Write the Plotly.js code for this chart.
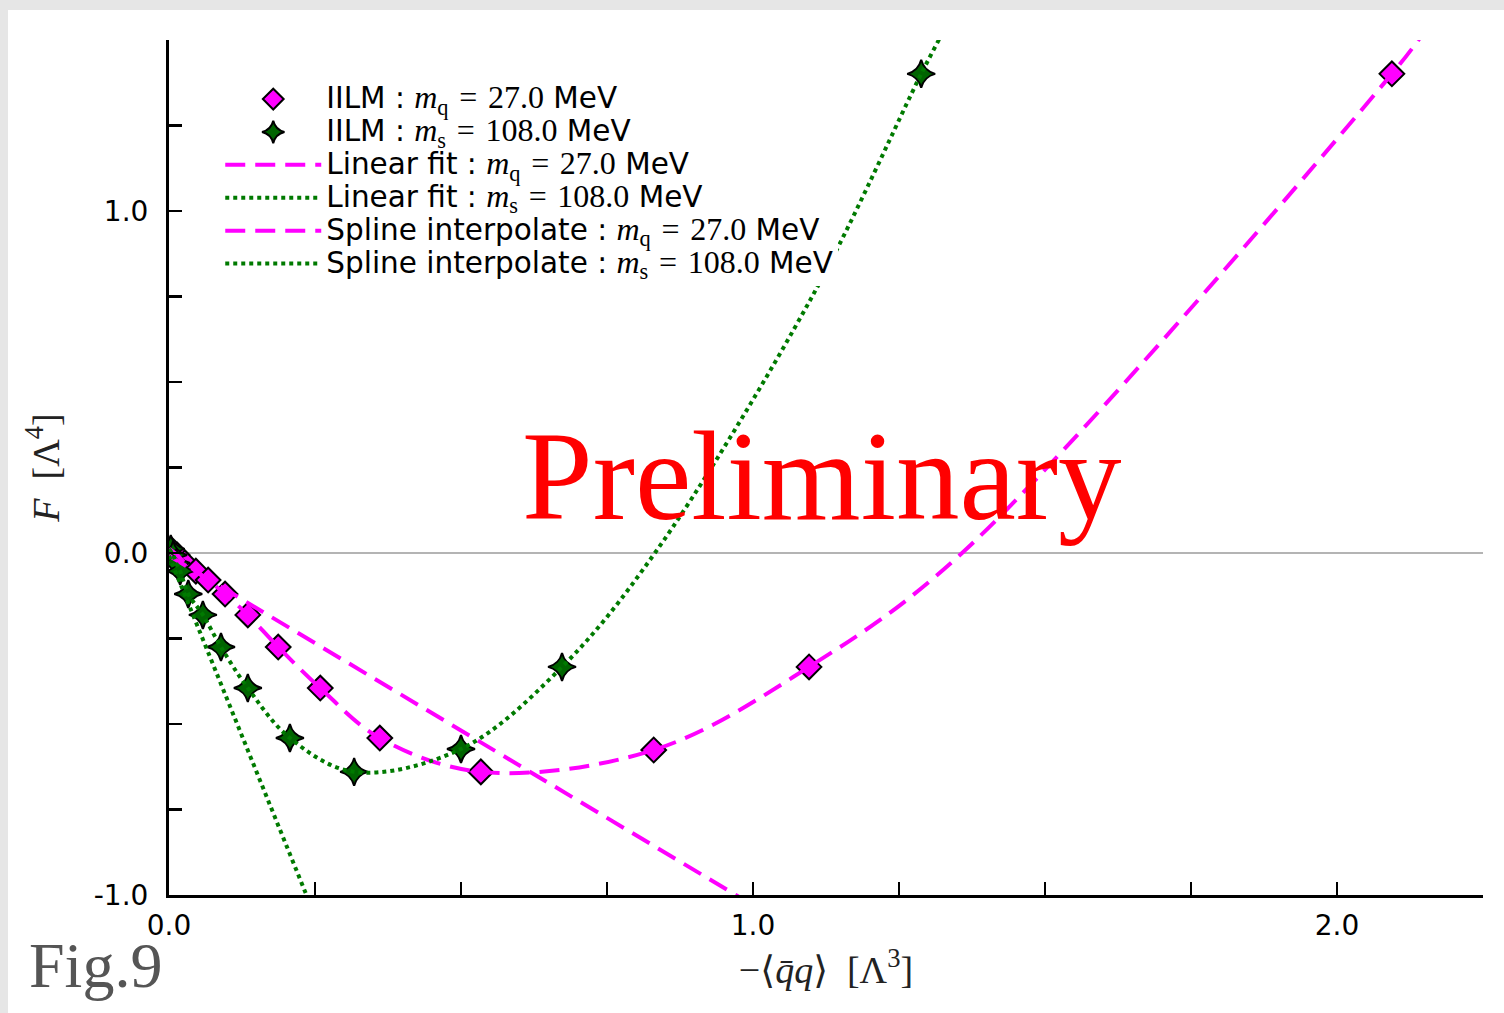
<!DOCTYPE html>
<html>
<head>
<meta charset="utf-8">
<script src="https://cdn.plot.ly/plotly-3.0.1.min.js"></script>
<style>
  html, body { margin: 0; padding: 0; background: #e6e6e6; width: 1504px; height: 1013px; overflow: hidden; }
  #chart { position: absolute; left: 8px; top: 10px; width: 1496px; height: 1003px; background: #ffffff; }
</style>
</head>
<body>
<div id="chart"></div>
<script>
// IILM data, m_q = 27.0 MeV (magenta diamonds)
const iilmQX = [0.003, 0.014, 0.027, 0.046, 0.067, 0.096, 0.135, 0.187, 0.259, 0.361, 0.534, 0.830, 1.096, 2.094];
const iilmQY = [0.012, -0.006, -0.029, -0.053, -0.079, -0.120, -0.181, -0.275, -0.395, -0.541, -0.640, -0.576, -0.333, 1.401];
// IILM data, m_s = 108.0 MeV (green stars)
const iilmSX = [0.003, 0.007, 0.012, 0.019, 0.033, 0.058, 0.089, 0.135, 0.207, 0.317, 0.500, 0.673, 1.288];
const iilmSY = [0.012, -0.006, -0.029, -0.053, -0.120, -0.181, -0.275, -0.395, -0.541, -0.640, -0.573, -0.333, 1.401];
// Linear fits (end points)
const linQX = [0.0, 1.0];
const linQY = [-0.008, -1.030];
const linSX = [0.0, 0.26];
const linSY = [-0.008, -1.104];
// Spline interpolations
const splQX = [0.0, 0.014, 0.027, 0.046, 0.067, 0.096, 0.135, 0.187, 0.259, 0.361, 0.534, 0.830, 1.096, 1.358, 2.094, 2.142];
const splQY = [0.012, -0.006, -0.029, -0.053, -0.079, -0.120, -0.181, -0.275, -0.395, -0.541, -0.640, -0.576, -0.333, 0.0, 1.401, 1.506];
const splSX = [0.0, 0.007, 0.012, 0.019, 0.033, 0.058, 0.089, 0.135, 0.207, 0.317, 0.500, 0.673, 0.832, 1.101, 1.288, 1.320];
const splSY = [0.012, -0.006, -0.029, -0.053, -0.120, -0.181, -0.275, -0.395, -0.541, -0.640, -0.573, -0.333, 0.0, 0.749, 1.401, 1.506];
// Axis ticks (labelled); unlabelled ticks every 0.25
const xTickVals = [0, 1.0, 2.0];
const xTickText = ['0.0', '1.0', '2.0'];
const yTickVals = [-1.0, 0.0, 1.0];
const yTickText = ['-1.0', '0.0', '1.0'];

const MAG = '#ff00ff';
const GRN = '#007a00';
const SERIF = "'Liberation Serif', 'DejaVu Serif', serif";
const m = (sym, val) => "<span style=\"font-family:'Liberation Serif';font-size:32px\"><i>m</i><sub>" + sym + "</sub> \u200a= \u200a" + val + "</span>";
const lab = (pre, sym, val) => '<span style="font-size:29.5px">' + pre + ' : ' + m(sym, val) + ' MeV</span>';

const traces = [
  { x: iilmQX, y: iilmQY, type: 'scatter', mode: 'markers', name: lab('IILM', 'q', '27.0'),
    marker: { symbol: 'diamond', size: 19, color: MAG, line: { color: '#000', width: 2 } } },
  { x: iilmSX, y: iilmSY, type: 'scatter', mode: 'markers', name: lab('IILM', 's', '108.0'),
    marker: { symbol: 'star-diamond', size: 20, color: '#006400', line: { color: '#000', width: 2 } } },
  { x: linQX, y: linQY, type: 'scatter', mode: 'lines', name: lab('Linear fit', 'q', '27.0'),
    line: { color: MAG, width: 4, dash: '20px,10px' } },
  { x: linSX, y: linSY, type: 'scatter', mode: 'lines', name: lab('Linear fit', 's', '108.0'),
    line: { color: GRN, width: 4, dash: 'dot' } },
  { x: splQX, y: splQY, type: 'scatter', mode: 'lines', name: lab('Spline interpolate', 'q', '27.0'),
    line: { color: MAG, width: 4, dash: '20px,10px', shape: 'spline', smoothing: 1 } },
  { x: splSX, y: splSY, type: 'scatter', mode: 'lines', name: lab('Spline interpolate', 's', '108.0'),
    line: { color: GRN, width: 4, dash: 'dot', shape: 'spline', smoothing: 1 } }
];

const layout = {
  width: 1496, height: 1003,
  margin: { l: 161, r: 21, t: 30, b: 118 },
  paper_bgcolor: '#ffffff', plot_bgcolor: '#ffffff',
  font: { family: "'DejaVu Sans', sans-serif", size: 26, color: '#000' },
  showlegend: true,
  legend: {
    x: 0.039, y: 0.956, xanchor: 'left', yanchor: 'top',
    bgcolor: '#ffffff', borderwidth: 0,
    font: { family: "'DejaVu Sans', sans-serif", size: 23, color: '#000' },
    itemwidth: 96, tracegroupgap: 0
  },
  xaxis: {
    range: [0, 2.25], autorange: false,
    showline: true, linecolor: '#000', linewidth: 3,
    ticks: 'inside', ticklen: 13, tickwidth: 2.5, tickcolor: '#000',
    tickmode: 'array', tickvals: xTickVals, ticktext: xTickText, ticklabelstandoff: 3,
    minor: { ticks: 'inside', ticklen: 13, tickwidth: 2.5, tickcolor: '#000', tick0: 0, dtick: 0.25, showgrid: false },
    tickfont: { family: "'DejaVu Sans', sans-serif", size: 28, color: '#000' },
    showgrid: false, zeroline: false, automargin: false,
    title: { text: '\u2212\u27e8<i>q\u0304q</i>\u27e9  [\u039b<sup>3</sup>]', font: { family: SERIF, size: 38, color: '#222' }, standoff: 16 }
  },
  yaxis: {
    range: [-1.0, 1.5], autorange: false,
    showline: true, linecolor: '#000', linewidth: 3,
    ticks: 'inside', ticklen: 13, tickwidth: 2.5, tickcolor: '#000',
    tickmode: 'array', tickvals: yTickVals, ticktext: yTickText, ticklabelstandoff: 12,
    minor: { ticks: 'inside', ticklen: 13, tickwidth: 2.5, tickcolor: '#000', tick0: 0, dtick: 0.25, showgrid: false },
    tickfont: { family: "'DejaVu Sans', sans-serif", size: 28, color: '#000' },
    showgrid: false, zeroline: true, zerolinecolor: '#b4b4b4', zerolinewidth: 2.5,
    automargin: false,
    title: { text: '<i>F</i>  [\u039b<sup>4</sup>]', font: { family: SERIF, size: 38, color: '#222' }, standoff: 23 }
  },
  annotations: [
    { text: 'Preliminary', xref: 'paper', yref: 'paper', x: 0.497, y: 0.49, xanchor: 'center', yanchor: 'middle',
      showarrow: false, font: { family: SERIF, size: 127, color: '#ff0000' } },
    { text: 'Fig.9', xref: 'paper', yref: 'paper', x: -0.108, y: -0.082, xanchor: 'left', yanchor: 'middle',
      showarrow: false, font: { family: SERIF, size: 64, color: '#555555' } }
  ]
};

Plotly.newPlot('chart', traces, layout, { displayModeBar: false, staticPlot: true });
</script>
</body>
</html>
